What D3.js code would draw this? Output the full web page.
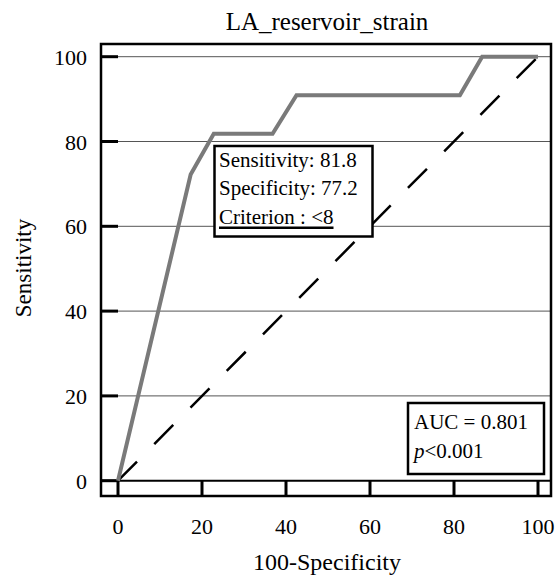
<!DOCTYPE html>
<head>
  <meta charset="utf-8">
  <script src="https://d3js.org/d3.v7.min.js"></script>
  <style>
    body { margin: 0; background: #fff; }
    svg text { font-family: "Liberation Serif", "Times New Roman", serif; fill: #000; }
    .grid line { stroke: #555; stroke-width: 1; }
    .roc { fill: none; stroke: #7a7a7a; stroke-width: 4; stroke-linejoin: miter; }
    .diag { fill: none; stroke: #000; stroke-width: 2.5; stroke-dasharray: 27 24.5; }
  </style>
</head>
<body>
  <svg width="555" height="577"></svg>
  <script>

  // ROC points (100-Specificity, Sensitivity)
  var fpr  = [0, 17.3, 22.8, 36.8, 42.5, 81.4, 86.7, 100];
  var sens = [0, 72.2, 81.8, 81.8, 90.9, 90.9, 100, 100];
  var ticks = [0, 20, 40, 60, 80, 100];
  var cutLines = ["Sensitivity: 81.8", "Specificity: 77.2", "Criterion : <8"];
  var aucLine = "AUC = 0.801";
  var pLine = "<0.001";

  var svg = d3.select('svg');

  // plot scales
  var x = d3.scaleLinear().domain([0, 100]).range([118, 538]);
  var y = d3.scaleLinear().domain([0, 100]).range([480.7, 56.7]);

  var frame = {left: 101, right: 551, top: 44, bottom: 496};

  // gridlines
  svg.append('g').attr('class', 'grid')
    .selectAll('line').data(ticks.slice(1))
    .enter().append('line')
    .attr('x1', frame.left).attr('x2', frame.right)
    .attr('y1', function(d) { return y(d); })
    .attr('y2', function(d) { return y(d); });

  // x axis line at y=0
  svg.append('line')
    .attr('x1', frame.left).attr('x2', frame.right)
    .attr('y1', y(0)).attr('y2', y(0))
    .attr('stroke', '#000').attr('stroke-width', 2);

  // y tick marks
  svg.append('g').selectAll('line').data(ticks)
    .enter().append('line')
    .attr('x1', frame.left).attr('x2', x(0))
    .attr('y1', function(d) { return y(d); })
    .attr('y2', function(d) { return y(d); })
    .attr('stroke', '#000').attr('stroke-width', 3);

  // x tick marks
  svg.append('g').selectAll('line').data(ticks)
    .enter().append('line')
    .attr('x1', function(d) { return x(d); })
    .attr('x2', function(d) { return x(d); })
    .attr('y1', y(0)).attr('y2', frame.bottom)
    .attr('stroke', '#000').attr('stroke-width', 3);

  // tick labels
  svg.append('g').selectAll('text').data(ticks)
    .enter().append('text')
    .attr('x', 87).attr('y', function(d) { return y(d) + 8; })
    .attr('text-anchor', 'end').attr('font-size', 22)
    .text(function(d) { return d; });

  svg.append('g').selectAll('text').data(ticks)
    .enter().append('text')
    .attr('x', function(d) { return x(d); }).attr('y', 534)
    .attr('text-anchor', 'middle').attr('font-size', 22)
    .text(function(d) { return d; });

  // diagonal reference
  svg.append('line').attr('class', 'diag')
    .attr('x1', x(0)).attr('y1', y(0))
    .attr('x2', x(100)).attr('y2', y(100));

  // ROC curve
  var line = d3.line()
    .x(function(d) { return x(d[0]); })
    .y(function(d) { return y(d[1]); });

  svg.append('path').attr('class', 'roc')
    .datum(d3.zip(fpr, sens))
    .attr('d', line);

  // frame
  svg.append('rect')
    .attr('x', frame.left).attr('y', frame.top)
    .attr('width', frame.right - frame.left)
    .attr('height', frame.bottom - frame.top)
    .attr('fill', 'none').attr('stroke', '#000').attr('stroke-width', 2.5);

  // title + axis labels
  svg.append('text').attr('x', 327).attr('y', 30)
    .attr('text-anchor', 'middle').attr('font-size', 25)
    .text('LA_reservoir_strain');

  svg.append('text').attr('x', 327).attr('y', 570)
    .attr('text-anchor', 'middle').attr('font-size', 24)
    .text('100-Specificity');

  svg.append('text')
    .attr('transform', 'translate(31,268) rotate(-90)')
    .attr('text-anchor', 'middle').attr('font-size', 23)
    .text('Sensitivity');

  // cut-off box
  var box1 = svg.append('g');
  box1.append('rect')
    .attr('x', 214.5).attr('y', 146).attr('width', 158).attr('height', 90.5)
    .attr('fill', '#fff').attr('stroke', '#000').attr('stroke-width', 2.5);
  box1.selectAll('text').data(cutLines)
    .enter().append('text')
    .attr('x', 219).attr('y', function(d, i) { return 166.5 + i * 28.5; })
    .attr('font-size', 21)
    .text(function(d) { return d; });
  var crit = box1.selectAll('text').filter(function(d, i) { return i === 2; });
  var cw = crit.node().getComputedTextLength();
  box1.append('line')
    .attr('x1', 219).attr('x2', 219 + cw)
    .attr('y1', 227.8).attr('y2', 227.8)
    .attr('stroke', '#000').attr('stroke-width', 2.4);

  // AUC box
  var box2 = svg.append('g');
  box2.append('rect')
    .attr('x', 408).attr('y', 403).attr('width', 136).attr('height', 71)
    .attr('fill', '#fff').attr('stroke', '#000').attr('stroke-width', 2.5);
  box2.append('text').attr('x', 414).attr('y', 428.5)
    .attr('font-size', 21).text(aucLine);
  var pt = box2.append('text').attr('x', 414).attr('y', 458)
    .attr('font-size', 21);
  pt.append('tspan').attr('font-style', 'italic').text('p');
  pt.append('tspan').text(pLine);

  </script>
</body>
